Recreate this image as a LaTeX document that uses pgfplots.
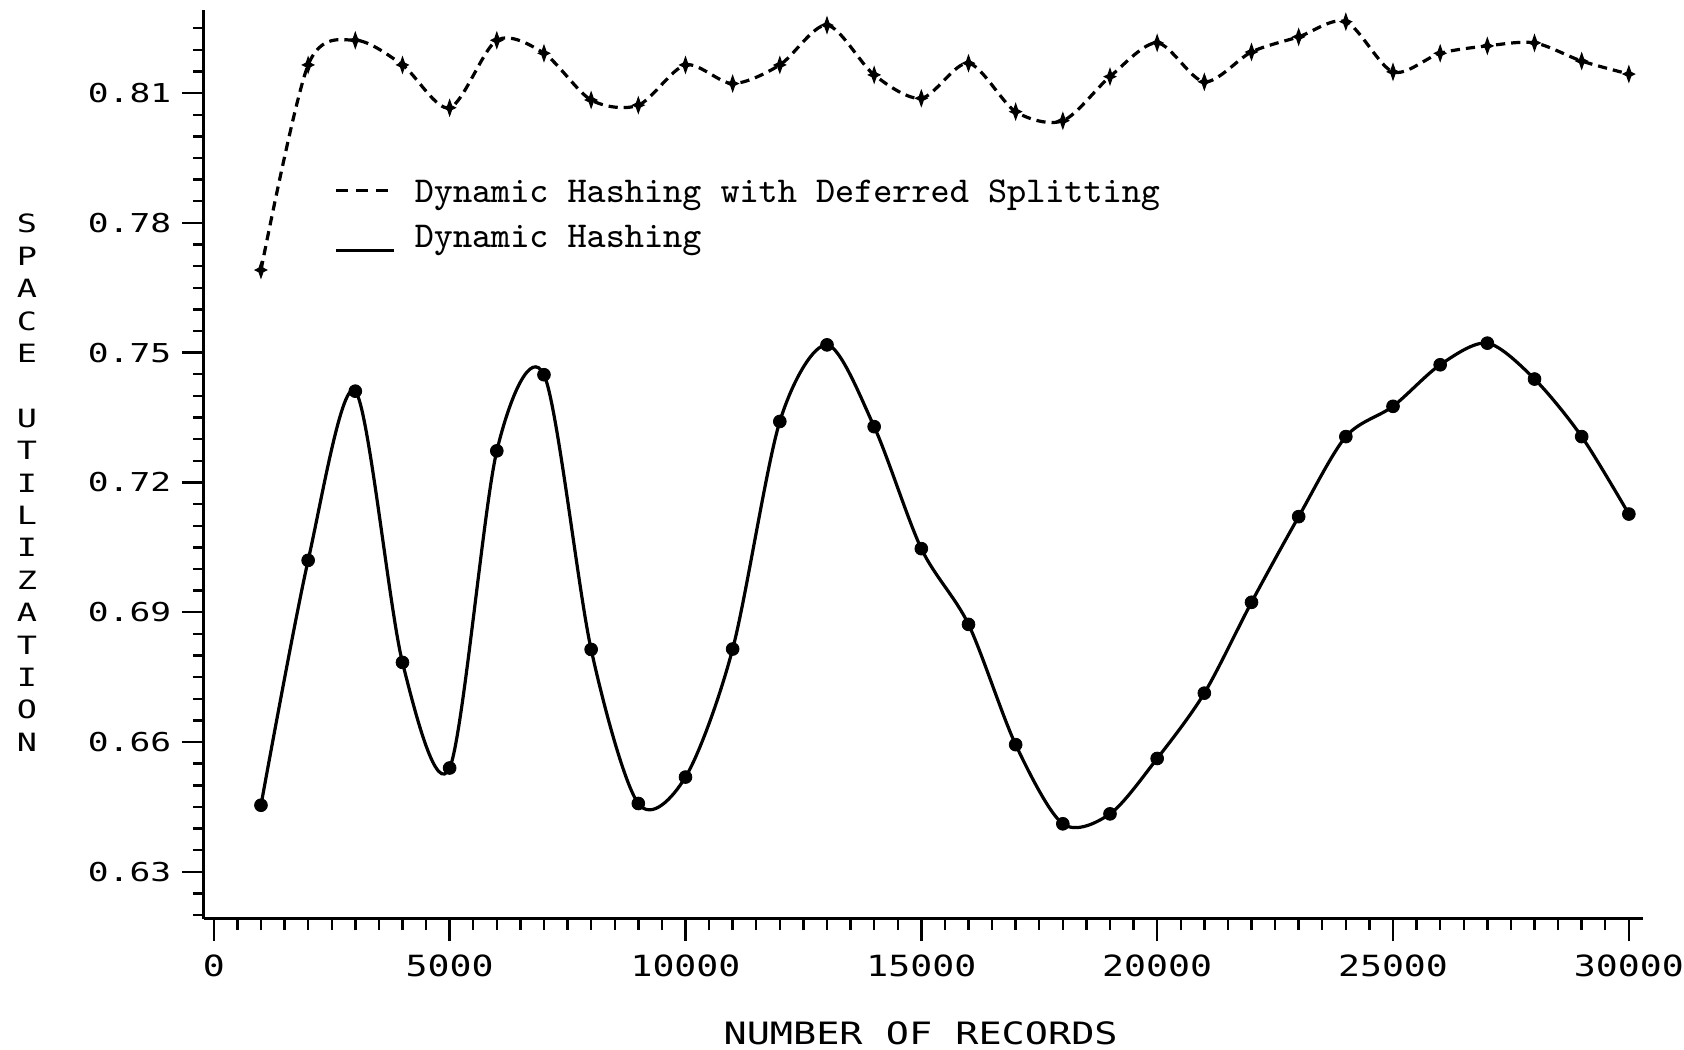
\documentclass[border=0pt]{standalone}
\usepackage{fontspec}
\usepackage{pgfplots}
\pgfplotsset{compat=1.18}

% plotter-like lettering for ticks and axis titles
\newfontfamily\plotA[FakeStretch=1.25]{DejaVu Sans Mono}
\newfontfamily\plotB[FakeStretch=1.33]{DejaVu Sans Mono}

% four-pointed star used for the deferred-splitting series
\pgfdeclareplotmark{sparkle}{%
  \pgfpathmoveto{\pgfpoint{0pt}{1.9pt}}%
  \pgfpathlineto{\pgfpoint{0.5pt}{0.45pt}}%
  \pgfpathlineto{\pgfpoint{1.4pt}{0pt}}%
  \pgfpathlineto{\pgfpoint{0.5pt}{-0.45pt}}%
  \pgfpathlineto{\pgfpoint{0pt}{-1.9pt}}%
  \pgfpathlineto{\pgfpoint{-0.5pt}{-0.45pt}}%
  \pgfpathlineto{\pgfpoint{-1.4pt}{0pt}}%
  \pgfpathlineto{\pgfpoint{-0.5pt}{0.45pt}}%
  \pgfpathclose
  \pgfusepathqfillstroke
}

\pgfplotstableread{
records util
1000  0.7691
2000  0.8165
3000  0.8222
4000  0.8165
5000  0.8066
6000  0.8222
7000  0.8192
8000  0.8084
9000  0.8072
10000 0.8165
11000 0.8122
12000 0.8165
13000 0.8257
14000 0.8142
15000 0.8088
16000 0.8169
17000 0.8057
18000 0.8036
19000 0.8138
20000 0.8216
21000 0.8126
22000 0.8195
23000 0.8230
24000 0.8265
25000 0.8149
26000 0.8192
27000 0.8209
28000 0.8216
29000 0.8174
30000 0.8144
}\deferred

\pgfplotstableread{
records util
1000  0.6454
2000  0.7020
3000  0.7411
4000  0.6784
5000  0.6540
6000  0.7273
7000  0.7449
8000  0.6814
9000  0.6458
10000 0.6519
11000 0.6815
12000 0.7341
13000 0.7518
14000 0.7329
15000 0.7047
16000 0.6872
17000 0.6594
18000 0.6411
19000 0.6434
20000 0.6562
21000 0.6713
22000 0.6923
23000 0.7121
24000 0.7306
25000 0.7376
26000 0.7472
27000 0.7522
28000 0.7439
29000 0.7306
30000 0.7127
}\plain

\begin{document}
\begin{tikzpicture}
\begin{axis}[
  scale only axis,
  width=359.75pt, height=227.25pt,
  xmin=-208, xmax=30300,
  ymin=0.6191, ymax=0.8292,
  clip=false,
  scaled x ticks=false,
  scaled y ticks=false,
  axis lines=left,
  axis line style={-, line width=0.75pt, black},
  tick align=outside,
  major tick length=5.5pt,
  minor tick length=2.75pt,
  tick style={line width=0.6pt, black},
  xtick={0,5000,10000,15000,20000,25000,30000},
  xticklabels={0,5000,10000,15000,20000,25000,30000},
  minor x tick num=9,
  ytick={0.63,0.66,0.69,0.72,0.75,0.78,0.81},
  yticklabels={0.63,0.66,0.69,0.72,0.75,0.78,0.81},
  minor ytick={0.62,0.625,0.635,0.64,0.645,0.65,0.655,0.665,0.67,0.675,0.68,0.685,
               0.695,0.70,0.705,0.71,0.715,0.725,0.73,0.735,0.74,0.745,
               0.755,0.76,0.765,0.77,0.775,0.785,0.79,0.795,0.80,0.805,
               0.815,0.82,0.825},
  xticklabel style={font=\plotA\fontsize{7.3}{8}\selectfont, inner sep=0pt, anchor=north, yshift=-3.3pt},
  yticklabel style={font=\plotB\fontsize{6.5}{8}\selectfont, inner sep=0pt, anchor=east, xshift=-2.5pt},
  xlabel={NUMBER OF RECORDS},
  xlabel style={font=\plotA\fontsize{7.7}{9}\selectfont, inner sep=0pt,
                at={(axis description cs:0.498,-0.126)}, anchor=center},
  ylabel={S\\P\\A\\C\\E\\\mbox{}\\U\\T\\I\\L\\I\\Z\\A\\T\\I\\O\\N},
  ylabel style={rotate=-90, align=center, font=\plotB\fontsize{6.3}{8.1}\selectfont,
                at={(axis description cs:-0.123,0.48)}, anchor=center},
  legend cell align=left,
  legend style={draw=none, fill=none, at={(axis cs:2569,0.7908)}, anchor=north west,
                inner sep=0pt, outer sep=0pt, row sep=2.75pt, column sep=4.75pt,
                font=\ttfamily\fontsize{9.1}{11}\selectfont,
                nodes={inner sep=0pt, text height=6.5pt, text depth=2pt}},
]
\coordinate (ll) at (rel axis cs:0,0);

\addplot[black, line width=0.8pt, dash pattern=on 2.3pt off 1.5pt, smooth,
         mark=sparkle, mark options={solid, line width=0.3pt, fill=black},
         legend image code/.code={
           \draw[black, line width=0.7pt, dash pattern=on 2.9pt off 2.1pt] (0pt,0.75pt) -- (12.9pt,0.75pt);
           \draw[draw=none] (0pt,0pt) -- (14.5pt,0pt);}]
  table[x=records, y=util] {\deferred};
\addlegendentry{Dynamic Hashing with Deferred Splitting}

\addplot[black, line width=0.8pt, solid, smooth,
         mark=*, mark size=1.6pt, mark options={fill=black, draw=black, line width=0.2pt},
         legend image code/.code={
           \draw[black, solid, line width=0.7pt] (0pt,-3.05pt) -- (14.5pt,-3.05pt);}]
  table[x=records, y=util] {\plain};
\addlegendentry{Dynamic Hashing}
\end{axis}
\pgfresetboundingbox
\path[use as bounding box] ([shift={(-51pt,-32.75pt)}]ll) rectangle ++(421pt,262.5pt);
\end{tikzpicture}
\end{document}
